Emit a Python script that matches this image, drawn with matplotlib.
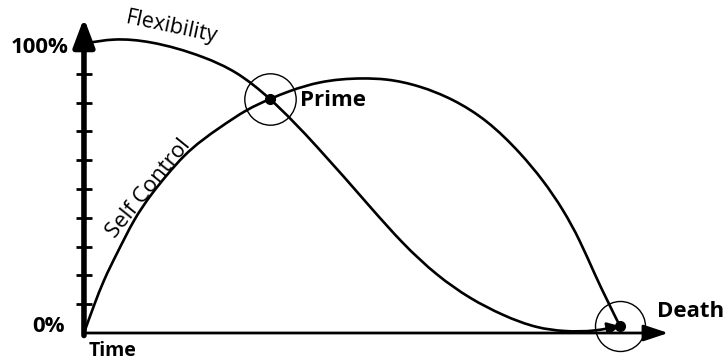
import numpy as np
import matplotlib
matplotlib.use('Agg')
import matplotlib.pyplot as plt
from matplotlib.path import Path
from matplotlib.patches import FancyArrowPatch, PathPatch

# values (time 0-100, level in %)
flex_t = [0, 5.6, 12.5, 22.2, 28.5, 34.7, 43.5, 53.4, 59.5, 65.9, 72.0, 78.2, 84.5, 89.7, 95.3, 100]
flex_v = [100.5, 101.9, 100.9, 95.8, 90.2, 81.25, 64.6, 43.8, 31.3, 20.3, 12.3, 6.3, 2.1, 0.7, 0.9, 2.4]

self_t = [0, 1.9, 3.7, 6.2, 9.3, 12.5, 15.5, 18.7, 25.4, 30.4, 34.7, 38.4, 44.0, 51.9,
          56.5, 62.7, 68.8, 75.2, 81.3, 85.6, 89.4, 92.5, 95.3, 100]
self_v = [0, 9.7, 18.1, 27.8, 38.9, 47.9, 54.9, 61.5, 71.4, 77.4, 81.25, 84.0, 87.0, 88.4,
          88.0, 85.5, 80.9, 73.3, 62.5, 52.9, 42.5, 31.9, 20.5, 2.4]

prime = (34.7, 81.25)
death = (100, 2.4)
y_ticks = [10, 20, 30, 40, 50, 60, 70, 80, 90, 100]
y_labels = ['', '', '', '', '', '', '', '', '', '100%']

FONT = 'Open Sans'


def smooth_path(xs, ys):
    # natural cubic spline through the read points, written as bezier segments
    x = np.asarray(xs, float)
    y = np.asarray(ys, float)
    n = len(x)
    h = np.diff(x)
    A = np.zeros((n, n))
    b = np.zeros(n)
    A[0, 0] = A[-1, -1] = 1
    for i in range(1, n - 1):
        A[i, i - 1] = h[i - 1]
        A[i, i] = 2 * (h[i - 1] + h[i])
        A[i, i + 1] = h[i]
        b[i] = 6 * ((y[i + 1] - y[i]) / h[i] - (y[i] - y[i - 1]) / h[i - 1])
    M = np.linalg.solve(A, b)
    verts = [(x[0], y[0])]
    codes = [Path.MOVETO]
    for i in range(n - 1):
        m0 = (y[i + 1] - y[i]) / h[i] - h[i] * (2 * M[i] + M[i + 1]) / 6
        m1 = (y[i + 1] - y[i]) / h[i] + h[i] * (M[i] + 2 * M[i + 1]) / 6
        verts += [(x[i] + h[i] / 3, y[i] + m0 * h[i] / 3),
                  (x[i + 1] - h[i] / 3, y[i + 1] - m1 * h[i] / 3),
                  (x[i + 1], y[i + 1])]
        codes += [Path.CURVE4] * 3
    return Path(verts, codes)


fig = plt.figure(figsize=(7.27, 3.6), dpi=100)
ax = fig.add_axes([0.1155, 0.075, 0.8036, 0.875])
ax.set_xlim(0, 109)
ax.set_ylim(0, 109.4)
for s in ax.spines.values():
    s.set_visible(False)

# axes with arrows
ax.annotate('', xy=(0, 1.0), xytext=(0, -0.008), xycoords='axes fraction',
            arrowprops=dict(arrowstyle='-|>,head_length=0.85,head_width=0.32', lw=4,
                            color='black', mutation_scale=20, shrinkA=0, shrinkB=0))
ax.annotate('', xy=(1, 0), xytext=(0, 0), xycoords='axes fraction',
            arrowprops=dict(arrowstyle='-|>,head_length=0.75,head_width=0.25', lw=2,
                            color='black', mutation_scale=20, shrinkA=0, shrinkB=0))

ax.set_xticks([])
ax.set_yticks(y_ticks)
ax.set_yticklabels(y_labels, fontfamily=FONT, fontweight='bold', fontsize=16)
ax.tick_params(axis='y', direction='inout', length=12, width=2, pad=5, color='black')

# curves
self_patch = PathPatch(smooth_path(self_t, self_v), fill=False, lw=1.9, color='black',
                       capstyle='round', zorder=3)
ax.add_patch(self_patch)
flex_arrow = FancyArrowPatch(path=smooth_path(flex_t, flex_v),
                             arrowstyle='-|>,head_length=0.5,head_width=0.25',
                             mutation_scale=15, lw=1.9, color='black', zorder=3)
ax.add_patch(flex_arrow)

# prime / death markers
for pt in [prime, death]:
    ax.plot(pt[0], pt[1], 'o', color='black', ms=7, zorder=5)
ax.plot(prime[0], prime[1], 'o', mfc='none', mec='black', mew=1, ms=37, zorder=4)
ax.plot(death[0], death[1], 'o', mfc='none', mec='black', mew=1, ms=36, zorder=4, clip_on=False)

ax.text(40.3, 80.6, 'Prime', fontfamily=FONT, fontweight='bold', fontsize=16, ha='left', va='center')
ax.text(106.9, 7.5, 'Death', fontfamily=FONT, fontweight='bold', fontsize=16, ha='left', va='center')
ax.text(-3.5, 2.1, '0%', fontfamily=FONT, fontweight='bold', fontsize=16, ha='right', va='center')
ax.text(5.4, -6.1, 'Time', fontfamily=FONT, fontweight='bold', fontsize=14, ha='center', va='center')
ax.text(16.4, 106.2, 'Flexibility', fontfamily=FONT, fontsize=15.5, rotation=-12,
        ha='center', va='center')
ax.text(12.0, 50.0, 'Self Control', fontfamily=FONT, fontsize=16, rotation=51,
        ha='center', va='center')

fig.savefig('out.png', dpi=100)
